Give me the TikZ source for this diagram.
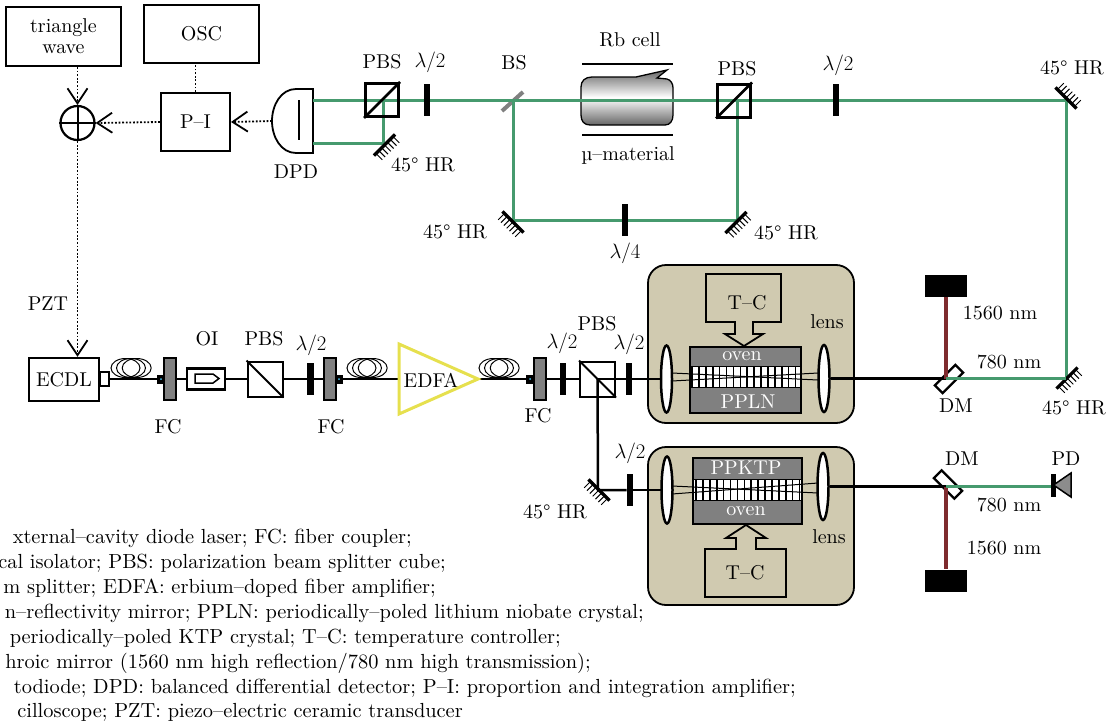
\documentclass[tikz,border=0pt]{standalone}
\usepackage{fontspec}
\setmainfont{lmroman10-regular.otf}
\usepackage{tikz}
\usetikzlibrary{arrows.meta,shapes.geometric}
\definecolor{beamgreen}{HTML}{469A6E}
\definecolor{beamred}{HTML}{7E2B2E}
\definecolor{ovenback}{HTML}{D0CAB0}
\definecolor{edfayellow}{HTML}{E6E04E}
\newcommand{\hrmirror}[2]{
    \begin{scope}[shift={(#1)},rotate=#2]
    \draw [line width=3.2] (-15,0) -- (15,0);
    \foreach \t in {-12,-8,-4,0,4,8,12}
        \draw [line width=1] (\t,0) -- (\t,9);
    \end{scope}
}
\newcommand{\fibercoil}[2]{
    \foreach \t in {14.5,20,25.7}
        \draw [line width=1] (#1+\t,#2) ellipse [x radius=14.5pt, y radius=9.5pt];
}
\newcommand{\stripes}[3]{
    \foreach \t in {0,...,15}
        \draw [line width=1.6] (#1+\t*6.9,#2) -- (#1+\t*6.9,#3);
}
\begin{document}
\begin{tikzpicture}[
x=1pt,y=-1pt,
>={Straight Barb[length=15pt,width=20pt,line width=1.8pt]},
every node/.style={font=\fontsize{20}{23}\selectfont},
lab/.style={inner sep=0pt},
legend/.style={inner sep=0pt,anchor=base east,font=\fontsize{20.4}{24}\selectfont},
whitelab/.style={inner sep=0pt,text=white},
box/.style={draw,line width=2,inner sep=0pt},
sig/.style={dash pattern=on 1.8pt off 1.8pt,line width=1.8,->},
gbeam/.style={beamgreen,line width=3},
rbeam/.style={beamred,line width=3.5},
kbeam/.style={line width=2.5},
waveplate/.style={fill=black,minimum width=6.5,minimum height=32,inner sep=0pt},
cube/.style={draw,line width=2,fill=white,minimum size=35,inner sep=0pt},
cubeb/.style={draw,line width=3,minimum size=33,inner sep=0pt},
lens/.style={ellipse,draw,fill=white,line width=2.5,minimum width=11,minimum height=67,inner sep=0pt},
fcplate/.style={draw,line width=2,fill=black!50,minimum width=12,minimum height=42,inner sep=0pt},
fcblock/.style={fill=black,minimum width=8,minimum height=9,inner sep=0pt},
oven/.style={draw,line width=1.8,fill=black!50,inner sep=0pt},
band/.style={draw,line width=1.6,fill=white,inner sep=0pt},
dm/.style={draw,line width=2.4,fill=white,minimum width=29,minimum height=11,inner sep=0pt},
dump/.style={fill=black,minimum width=42,minimum height=22,inner sep=0pt}
]
    \useasboundingbox (0,0) rectangle (1120,723);

    \node [draw,line width=1.8,rounded corners=18,fill=ovenback,minimum width=206,minimum height=158] (o1) at (751,344) {};
    \node [draw,line width=1.8,rounded corners=18,fill=ovenback,minimum width=206,minimum height=158] (o2) at (751,526) {};

    \node [box,minimum width=115,minimum height=59,align=center] (tw) at (63.5,36.5) {triangle\\[-2pt]wave};
    \node [box,minimum width=115,minimum height=58] (osc) at (201.5,34) {OSC};
    \node [box,minimum width=69,minimum height=58] (pi) at (195.5,122) {P--I};
    \node [draw,circle,line width=2.2,minimum size=34,inner sep=0pt] (sum) at (77.5,123) {};
    \draw [line width=2] (sum.north) -- (sum.south);
    \draw [line width=2] (sum.west) -- (sum.east);
    \node [box,line width=2.4,minimum width=70,minimum height=43] (ecdl) at (64,379.5) {ECDL};
    \node [lab] (pzt) at (48,304) {PZT};

    \coordinate (dpdl) at (272,121);
    \draw [line width=1.8] (313,89) -- (296,89) .. controls (281,89) and (272,105) .. (dpdl) .. controls (272,137) and (281,153) .. (296,153) -- (313,153) -- cycle;
    \draw [line width=1.6] (299,100) -- (299,140);
    \node [lab] (dpd) at (296,172) {DPD};

    \draw [sig] (sum.north |- tw.south) -- (sum.north);
    \draw [sig,-] (pi.north) -- (pi.north |- osc.south);
    \draw [sig] (pi.west) -- (sum.east);
    \draw [sig] (dpdl) -- (pi.east);
    \draw [sig] (sum.south) -- (sum.south |- ecdl.north);

    \shade [top color=black!60,bottom color=black!60,middle color=white,draw=black,line width=1.3]
        (592,77) -- (636,77) -- (667,70) -- (657,78) -- (667,79) .. controls (671,80) and (673,84) .. (673,88) -- (673,115) .. controls (673,121) and (670,125) .. (665,125) -- (590,125) .. controls (584,125) and (581,121) .. (581,115) -- (581,87) .. controls (581,81) and (585,77) .. (592,77) -- cycle;
    \draw [line width=2] (582,64) -- (673,64);
    \draw [line width=2] (582,135) -- (673,135);
    \node [lab] (rb) at (630,40) {Rb cell};
    \node [lab] (mu) at (628,155) {µ--material};

    \coordinate (g1) at (313,100);
    \coordinate (g2) at (383,100);
    \coordinate (g3) at (383,143);
    \coordinate (g4) at (313,143);
    \coordinate (bs) at (513,100);
    \coordinate (g5) at (513,220);
    \coordinate (g6) at (737,220);
    \coordinate (g7) at (737,100);
    \coordinate (g8) at (1066,100);
    \coordinate (g9) at (1066,378.5);
    \coordinate (q1) at (946,378.5);
    \coordinate (q2) at (946,486.5);
    \draw [gray,line width=4] (502,111) -- (523,92);

    \node [dm,rotate=45] (dm1) at (949,379) {};
    \node [dm,rotate=-45] (dm2) at (948,484.5) {};

    \draw [gbeam] (g1) -- (g8) -- (g9) -- (q1);
    \draw [gbeam] (g2) -- (g3) -- (g4);
    \draw [gbeam] (bs) -- (g5) -- (g6) -- (g7);

    \node [cubeb] (p1) at (382,100) {};
    \draw [line width=2.5] (p1.south west) -- (p1.north east);
    \node [cubeb] (p2) at (734,100.5) {};
    \draw [line width=2.5] (p2.south west) -- (p2.north east);
    \node [waveplate] (w1) at (427,100) {};
    \node [waveplate] (w2) at (625,220) {};
    \node [waveplate] (w3) at (836,100) {};

    \hrmirror{384.5,145}{45}
    \hrmirror{513,222}{-45}
    \hrmirror{736,222.5}{45}
    \hrmirror{1066,98}{135}
    \hrmirror{1067,378}{45}
    \hrmirror{599,490}{-45}

    \node [lab] (t1) at (382,62) {PBS};
    \node [lab] (t2) at (430,62) {$\lambda/2$};
    \node [lab] (t3) at (514,63) {BS};
    \node [lab] (t4) at (737,69) {PBS};
    \node [lab] (t5) at (838,65) {$\lambda/2$};
    \node [lab] (t6) at (625,253) {$\lambda/4$};
    \node [lab] (t7) at (423,165) {45° HR};
    \node [lab] (t8) at (455,232) {45° HR};
    \node [lab] (t9) at (786,233) {45° HR};
    \node [lab] (t10) at (1072,68) {45° HR};
    \node [lab] (t11) at (1074,408) {45° HR};
    \node [lab] (t12) at (555,512) {45° HR};

    \node [box,fill=white,line width=2,minimum width=9,minimum height=14] (ld) at (104,379) {};
    \node [fcplate] (f1) at (170,379) {};
    \node [fcblock] (f1b) at (161,379) {};
    \fill [cyan!70] (f1b.center) circle (1);
    \node [box,line width=2.4,fill=white,minimum width=38,minimum height=21] (oi) at (206,379) {};
    \node [cube] (p3) at (265,379) {};
    \node [waveplate] (w4) at (310.5,379) {};
    \node [fcplate] (f2) at (329.5,379) {};
    \node [fcblock] (f2b) at (339,379) {};
    \fill [cyan!70] (f2b.center) circle (1);
    \node [lab] (edfa) at (431,380) {EDFA};
    \coordinate (e1) at (399,344);
    \coordinate (e2) at (399,414);
    \coordinate (e3) at (478,379);
    \node [fcblock] (f3b) at (530,379) {};
    \fill [cyan!70] (f3b.center) circle (1);
    \node [fcplate] (f3) at (540,379) {};
    \node [waveplate] (w5) at (563,379) {};
    \node [cube] (p4) at (597.5,379) {};
    \node [waveplate] (w6) at (629,379) {};
    \node [waveplate] (w7) at (630,490) {};

    \draw [kbeam] (ld.east) -- (f1b.west);
    \draw [kbeam] (f1.east) -- (oi.west);
    \draw [kbeam] (oi.east) -- (p3.west);
    \draw [kbeam] (p3.east) -- (w4.west);
    \draw [kbeam] (w4.east) -- (f2.west);
    \draw [kbeam] (f2b.east) -- (e1 |- f2b);
    \draw [kbeam] (e3) -- (f3b.west);
    \draw [kbeam] (f3.east) -- (w5.west);
    \draw [kbeam] (w5.east) -- (p4.west);
    \draw [kbeam] (p4.center) -- (w6.west);
    \draw [kbeam] (p4.center) -- (598,490) -- (w7.west);
    \draw [line width=1.8] (p3.north west) -- (p3.south east);
    \draw [line width=1.8] (p4.north west) -- (p4.south east);
    \fibercoil{111}{368}
    \fibercoil{347}{368}
    \fibercoil{479}{368}
    \draw [edfayellow,line width=3] (e1) -- (e2) -- (e3) -- cycle;
    \draw [line width=1.5] (195,374) -- (213,374) -- (219,378.5) -- (213,383) -- (195,383) -- cycle;

    \node [lab] (t13) at (207,339) {OI};
    \node [lab] (t14) at (264,339) {PBS};
    \node [lab] (t15) at (311,345) {$\lambda/2$};
    \node [lab] (t16) at (168,427) {FC};
    \node [lab] (t17) at (331,427) {FC};
    \node [lab] (t18) at (538,416) {FC};
    \node [lab] (t19) at (562,343) {$\lambda/2$};
    \node [lab] (t20) at (597,324) {PBS};
    \node [lab] (t21) at (629,344) {$\lambda/2$};
    \node [lab] (t22) at (630,453) {$\lambda/2$};

    \draw [kbeam] (w6.east) -- (661,379);
    \draw [kbeam] (w7.east) -- (661,490);
    \node [oven,minimum width=111,minimum height=66] (c1) at (745.5,380) {};
    \node [band,minimum width=110,minimum height=21] (b1) at (745.5,377) {};
    \stripes{692}{367}{387}
    \node [oven,minimum width=109,minimum height=66] (c2) at (747.5,491) {};
    \node [band,minimum width=108,minimum height=21] (b2) at (747.5,490) {};
    \stripes{696}{480}{500}
    \draw [line width=1] (672,373) -- (818,380);
    \draw [line width=1] (672,381) -- (818,373);
    \draw [line width=1] (672,486) -- (818,493);
    \draw [line width=1] (672,494) -- (818,483);
    \node [lens] (l1) at (666.5,379) {};
    \node [lens] (l2) at (824,378.5) {};
    \node [lens] (l3) at (667,490) {};
    \node [lens] (l4) at (823,486.5) {};
    \node [whitelab] (t23) at (742,356) {oven};
    \node [whitelab] (t24) at (748,402) {PPLN};
    \node [whitelab] (t25) at (746,468) {PPKTP};
    \node [whitelab] (t26) at (746,511) {oven};
    \node [lab] (t27) at (827,322) {lens};
    \node [lab] (t28) at (829,537) {lens};

    \coordinate (a1) at (744,346);
    \coordinate (a2) at (746,525);
    \draw [line width=1.8] (706,274) -- (781,274) -- (781,322) -- (753,322) -- (753,334) -- (763,334) -- (a1) -- (725,334) -- (735,334) -- (735,322) -- (706,322) -- cycle;
    \draw [line width=1.8] (705,597) -- (786,597) -- (786,549) -- (756,549) -- (756,538) -- (766,538) -- (a2) -- (726,538) -- (736,538) -- (736,549) -- (705,549) -- cycle;
    \node [lab] (tc1) at (747,303) {T--C};
    \node [lab] (tc2) at (745,573) {T--C};

    \node [dump] (d1) at (946,286) {};
    \node [dump] (d2) at (946,580.5) {};
    \draw [kbeam] (l2.east) -- (q1);
    \draw [kbeam] (l4.east) -- (q2);
    \draw [rbeam] (q1) -- (d1.south);
    \draw [rbeam] (q2) -- (d2.north);
    \node [fill=black,minimum width=5,minimum height=23,inner sep=0pt] (pd) at (1053.5,485) {};
    \draw [line width=1.5,fill=black!45] (pd.center) -- (1071,473) -- (1071,497) -- cycle;
    \draw [gbeam] (q2) -- (pd.west |- q2);
    \draw [gbeam] (q1) -- (g9);

    \node [lab] (t29) at (1000,313) {1560 nm};
    \node [lab] (t30) at (1009,362) {780 nm};
    \node [lab] (t31) at (956,406) {DM};
    \node [lab] (t32) at (962,459) {DM};
    \node [lab] (t33) at (1066,459) {PD};
    \node [lab] (t34) at (1009,505) {780 nm};
    \node [lab] (t35) at (1004,548) {1560 nm};

    \node [legend] (n1) at (412,543) {xternal--cavity diode laser; FC: fiber coupler;};
    \node [legend] (n2) at (446,568) {cal isolator; PBS: polarization beam splitter cube;};
    \node [legend] (n3) at (436,593) {m splitter; EDFA: erbium--doped fiber amplifier;};
    \node [legend] (n4) at (644,618) {n--reflectivity mirror; PPLN: periodically--poled lithium niobate crystal;};
    \node [legend] (n5) at (561,643) {periodically--poled KTP crystal; T--C: temperature controller;};
    \node [legend] (n6) at (591,668) {hroic mirror (1560 nm high reflection/780 nm high transmission);};
    \node [legend] (n7) at (796,693) {todiode; DPD: balanced differential detector; P--I: proportion and integration amplifier;};
    \node [legend] (n8) at (463,717) {cilloscope; PZT: piezo--electric ceramic transducer};
\end{tikzpicture}
\end{document}
